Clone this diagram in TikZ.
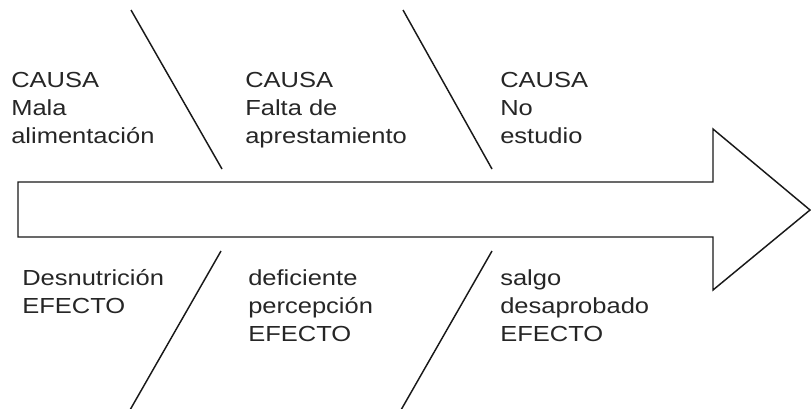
\documentclass[tikz,border=0pt]{standalone}
\usepackage{fontspec}
\setmainfont{Liberation Sans}[FakeStretch=1.17]
\begin{document}
\begin{tikzpicture}[x=0.75pt,y=-0.75pt,
	bone/.style={line width=1.1pt,black!90},
	lbl/.style={anchor=north west,inner sep=0pt,align=left,text=black!85,
		font=\fontsize{16.35pt}{21pt}\selectfont}]
	\useasboundingbox (0,0) rectangle (811,408);
	
	\draw[bone,line join=miter] (18,182) -- (713,182) -- (713,129) -- (810,210) -- (713,290) -- (713,237) -- (18,237) -- cycle;
	
	\draw[bone] (131,10) -- (222,169);
	\draw[bone] (403,10) -- (492,169);
	\draw[bone] (221,251) -- (130,410);
	\draw[bone] (492,251) -- (401,410);
	
	\node[lbl] (causa1) at (11,72) {CAUSA\\Mala\\alimentación};
	\node[lbl] (causa2) at (245,72) {CAUSA\\Falta de\\aprestamiento};
	\node[lbl] (causa3) at (500,72) {CAUSA\\No\\estudio};
	
	\node[lbl] (efecto1) at (22,269) {Desnutrición\\EFECTO};
	\node[lbl] (efecto2) at (248,269) {deficiente\\percepción\\EFECTO};
	\node[lbl] (efecto3) at (500,269) {salgo\\desaprobado\\EFECTO};
\end{tikzpicture}
\end{document}
